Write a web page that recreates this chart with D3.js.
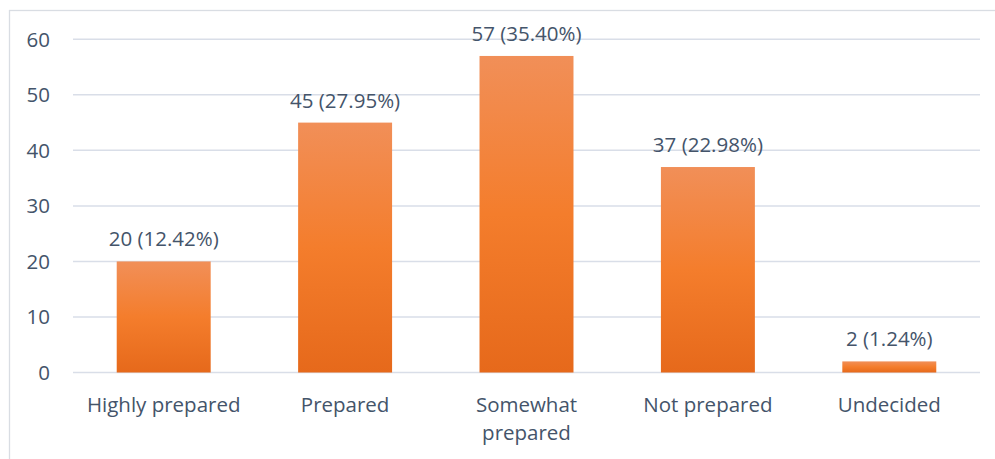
<!DOCTYPE html>
<html>
<head>
<meta charset="utf-8">
<script src="https://cdn.jsdelivr.net/npm/d3@7"></script>
<style>
  body { margin: 0; background: #fff; }
  svg text { font-family: "Open Sans", Lato, sans-serif; fill: #44546a; font-size: 20.5px; }
</style>
</head>
<body>
<div id="chart"></div>
<script>
const categories = ["Highly prepared", "Prepared", "Somewhat prepared", "Not prepared", "Undecided"]
const counts = [20, 45, 57, 37, 2]
const percents = ["12.42%", "27.95%", "35.40%", "22.98%", "1.24%"]
const yTicks = [0, 10, 20, 30, 40, 50, 60]

const data = categories.map((c, i) => ({ cat: c, value: counts[i], pct: percents[i] }))

const width = 995
const height = 459
const margin = { left: 73, right: 15, top: 39, bottom: 85 }

const svg = d3.select("#chart")
    .append("svg")
    .attr("width", width)
    .attr("height", height)

// chart frame (only left and top visible in the picture)
svg.append("rect")
    .attr("x", 9.5)
    .attr("y", 10.5)
    .attr("width", 1000)
    .attr("height", 470)
    .attr("fill", "none")
    .attr("stroke", "#d9dde3")
    .attr("stroke-width", 1.3)

const x = d3.scaleBand()
    .domain(categories)
    .range([margin.left, width - margin.right])
    .paddingInner(0.482)
    .paddingOuter(0.241)

const y = d3.scaleLinear()
    .domain([0, 60])
    .range([height - margin.bottom - 1.5, margin.top + 0.3])

const defs = svg.append("defs")
const grad = defs.append("linearGradient")
    .attr("id", "barGrad")
    .attr("x1", 0).attr("y1", 0).attr("x2", 0).attr("y2", 1)
grad.append("stop").attr("offset", "0%").attr("stop-color", "#f18f58")
grad.append("stop").attr("offset", "50%").attr("stop-color", "#f47d2c")
grad.append("stop").attr("offset", "100%").attr("stop-color", "#e6691b")

// gridlines
svg.append("g")
    .selectAll("line")
    .data(yTicks)
    .enter()
    .append("line")
    .attr("x1", margin.left)
    .attr("x2", width - margin.right)
    .attr("y1", d => y(d))
    .attr("y2", d => y(d))
    .attr("stroke", "#d9dee8")
    .attr("stroke-width", 1.5)

// y tick labels
svg.append("g")
    .selectAll("text")
    .data(yTicks)
    .enter()
    .append("text")
    .attr("x", 50)
    .attr("y", d => y(d))
    .attr("dy", "0.36em")
    .attr("text-anchor", "end")
    .text(d => d)

// bars
svg.append("g")
    .selectAll("rect")
    .data(data)
    .enter()
    .append("rect")
    .attr("x", d => x(d.cat))
    .attr("width", x.bandwidth())
    .attr("y", d => y(d.value))
    .attr("height", d => y(0) - y(d.value))
    .attr("fill", "url(#barGrad)")

// value labels
svg.append("g")
    .selectAll("text")
    .data(data)
    .enter()
    .append("text")
    .attr("x", d => x(d.cat) + x.bandwidth() / 2)
    .attr("y", d => y(d.value) - 15)
    .attr("text-anchor", "middle")
    .text(d => d.value + " (" + d.pct + ")")

// category labels, wrapped like the original
const wrapped = { "Somewhat prepared": ["Somewhat", "prepared"] }
const catLabels = svg.append("g")
    .selectAll("text")
    .data(categories)
    .enter()
    .append("text")
    .attr("x", d => x(d) + x.bandwidth() / 2)
    .attr("y", 412)
    .attr("text-anchor", "middle")

catLabels.each(function (d) {
    const lines = wrapped[d] || [d]
    d3.select(this).selectAll("tspan")
        .data(lines)
        .enter()
        .append("tspan")
        .attr("x", x(d) + x.bandwidth() / 2)
        .attr("dy", (l, i) => i === 0 ? 0 : 28)
        .text(l => l)
})
</script>
</body>
</html>
